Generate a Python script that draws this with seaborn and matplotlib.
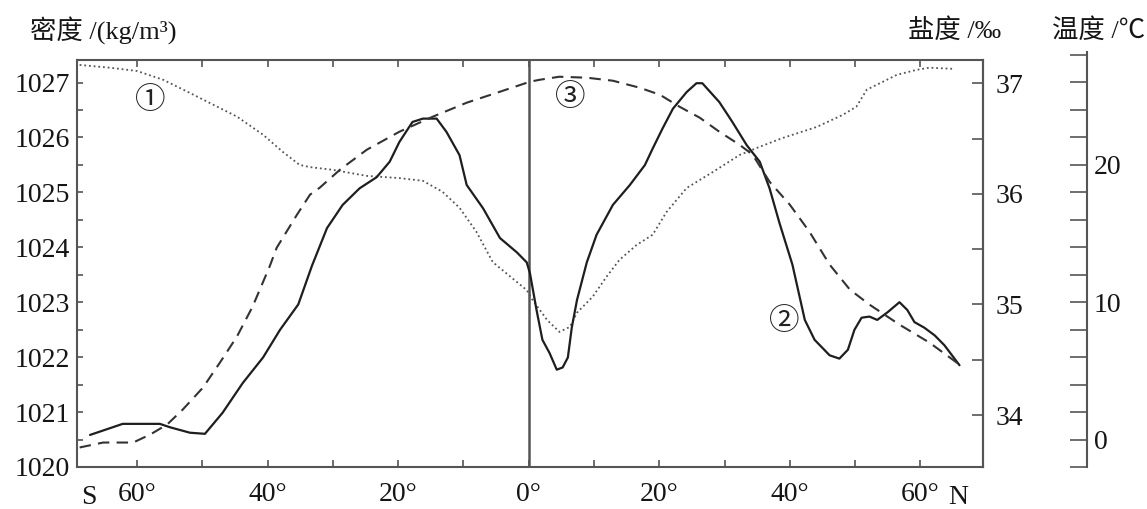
import numpy as np
import pandas as pd
import matplotlib
matplotlib.use("Agg")
import matplotlib.pyplot as plt
from matplotlib.ticker import MultipleLocator, FixedLocator
import seaborn as sns

# ---------------- data (latitude: S negative, N positive) ----------------
dens_lat = [-68.8, -64.2, -60.0, -56.0, -51.9, -48.9, -44.7, -40.7, -37.7, -35.1, -33.5,
            -30.0, -24.8, -19.8, -16.2, -13.2, -10.6, -8.0, -5.5, -0.3, 0.6, 2.8, 4.7,
            6.3, 7.4, 9.8, 11.9, 13.9, 16.5, 19.0, 21.1, 24.2, 28.2, 32.3, 35.4, 38.9,
            44.1, 48.1, 50.2, 51.8, 54.2, 56.4, 59.4, 61.4, 64.9]
density = [1027.32, 1027.27, 1027.21, 1027.05, 1026.81, 1026.63, 1026.38, 1026.05, 1025.74,
           1025.50, 1025.46, 1025.41, 1025.30, 1025.26, 1025.21, 1025.01, 1024.72, 1024.28,
           1023.73, 1023.22, 1023.04, 1022.68, 1022.46, 1022.55, 1022.81, 1023.10, 1023.46,
           1023.77, 1024.04, 1024.23, 1024.64, 1025.08, 1025.37, 1025.68, 1025.83, 1025.99,
           1026.19, 1026.41, 1026.56, 1026.87, 1027.01, 1027.14, 1027.23, 1027.27, 1027.25]

sal_lat = [-67.2, -62.2, -56.5, -55.0, -51.9, -49.6, -46.9, -43.8, -40.7, -38.1, -35.3,
           -33.2, -30.9, -28.5, -25.9, -23.3, -21.3, -19.8, -17.8, -16.2, -14.1, -12.6,
           -10.6, -9.5, -7.0, -4.4, -1.8, -0.3, 0.2, 1.2, 2.1, 3.2, 4.3, 5.2, 6.0, 6.6,
           7.4, 8.9, 10.4, 12.9, 15.5, 17.8, 19.0, 20.5, 22.1, 24.2, 25.7, 26.6, 29.2,
           31.2, 33.4, 35.4, 36.9, 38.4, 40.4, 42.3, 43.8, 46.1, 47.6, 48.9, 49.9, 51.0,
           52.2, 53.4, 55.0, 56.8, 58.0, 59.1, 60.6, 62.2, 63.7, 66.0]
salinity = [33.82, 33.92, 33.92, 33.89, 33.84, 33.83, 34.02, 34.29, 34.52, 34.77, 35.00,
            35.35, 35.69, 35.90, 36.05, 36.15, 36.29, 36.47, 36.65, 36.68, 36.68, 36.56,
            36.35, 36.08, 35.87, 35.60, 35.47, 35.38, 35.28, 34.95, 34.68, 34.56, 34.41,
            34.43, 34.52, 34.79, 35.04, 35.38, 35.63, 35.90, 36.08, 36.26, 36.41, 36.59,
            36.77, 36.92, 37.00, 37.00, 36.83, 36.65, 36.44, 36.29, 36.05, 35.74, 35.36,
            34.86, 34.68, 34.54, 34.51, 34.59, 34.77, 34.88, 34.89, 34.86, 34.93, 35.02,
            34.95, 34.84, 34.79, 34.72, 34.63, 34.45]

temp_lat = [-68.8, -65.2, -60.6, -58.0, -55.4, -53.0, -49.9, -47.3, -44.7, -42.3, -39.7,
            -38.6, -35.5, -33.5, -32.0, -28.9, -24.8, -19.8, -14.7, -9.5, -4.4, 0.2, 1.7,
            4.7, 8.9, 12.9, 17.0, 20.1, 23.1, 26.2, 29.2, 32.3, 34.3, 36.9, 40.0, 43.0,
            46.1, 49.2, 52.2, 56.8, 61.4, 66.0]
temperature = [-0.58, -0.22, -0.22, 0.36, 1.09, 2.18, 3.78, 5.60, 7.49, 9.67, 12.58, 13.96,
               16.36, 17.82, 18.33, 19.64, 21.09, 22.40, 23.49, 24.51, 25.31, 26.04, 26.18,
               26.40, 26.33, 26.11, 25.60, 25.09, 24.22, 23.42, 22.40, 21.45, 20.73, 18.76,
               17.09, 15.13, 12.73, 10.91, 9.82, 8.36, 7.05, 5.45]

x_ticks = [-60, -40, -20, 0, 20, 40, 60]
x_labels = ["60°", "40°", "20°", "0°", "20°", "40°", "60°"]
dens_ticks = [1020, 1021, 1022, 1023, 1024, 1025, 1026, 1027]
sal_ticks = [34, 35, 36, 37]
temp_ticks = [0, 10, 20]

# ---------------- style ----------------
sns.set_style("ticks")
plt.rcParams["font.family"] = ["Liberation Serif", "Noto Sans CJK SC", "DejaVu Sans"]
SP = "#555555"
LC = "#1e1e1e"
FS = 20
TXT = "#151515"

W_PX, H_PX = 1147, 509
fig = plt.figure(figsize=(W_PX / 100, H_PX / 100), dpi=100)
L = 77 / W_PX
R = 983 / W_PX
B = 1 - 467 / H_PX
T = 1 - 60 / H_PX
ax = fig.add_axes([L, B, R - L, T - B])
ax2 = ax.twinx()
T3 = 1 - 52 / H_PX
ax3 = fig.add_axes([L, B, R - L, T3 - B])
ax3.patch.set_alpha(0)

XL = (-69.2, 69.6)

df_d = pd.DataFrame({"lat": dens_lat, "v": density})
df_s = pd.DataFrame({"lat": sal_lat, "v": salinity})
df_t = pd.DataFrame({"lat": temp_lat, "v": temperature})

sns.lineplot(data=df_d, x="lat", y="v", ax=ax, color="#555555", lw=1.3,
             linestyle=(0, (1, 1.6)), sort=False, estimator=None)
sns.lineplot(data=df_s, x="lat", y="v", ax=ax2, color=LC, lw=1.6,
             sort=False, estimator=None)
sns.lineplot(data=df_t, x="lat", y="v", ax=ax3, color="#333333", lw=1.5,
             linestyle=(0, (5.5, 3.5)), sort=False, estimator=None)

ax.axvline(0, color=SP, lw=1.8, zorder=1)

# density axis
ax.set_xlim(*XL)
ax.set_ylim(1020, 1027.41)
ax.set_yticks(dens_ticks)
ax.yaxis.set_minor_locator(FixedLocator([v + 0.5 for v in dens_ticks[:-1]]))
ax.set_xticks(x_ticks)
ax.set_xticklabels(x_labels)
ax.xaxis.set_minor_locator(MultipleLocator(10))
ax.tick_params(axis="both", which="both", direction="in", colors=SP, labelcolor=TXT,
               labelsize=FS, width=1.2)
ax.tick_params(axis="x", which="both", top=True, length=5, pad=11)
ax.tick_params(axis="y", which="both", length=4, pad=5)
ax.set_xlabel("")
ax.set_ylabel("")
for s in ax.spines.values():
    s.set_color(SP)
    s.set_linewidth(1.5)

# salinity axis
ax2.set_ylim(33.53, 37.21)
ax2.set_yticks(sal_ticks)
ax2.yaxis.set_minor_locator(FixedLocator([34.5, 35.5, 36.5]))
ax2.tick_params(axis="y", which="both", direction="in", length=8, width=1.2, colors=SP,
                labelcolor=TXT, labelsize=FS, pad=9)
ax2.set_ylabel("")
for s in ax2.spines.values():
    s.set_visible(False)
ax2.spines["right"].set_visible(True)
ax2.spines["right"].set_color(SP)
ax2.spines["right"].set_linewidth(1.5)

# temperature axis
ax3.set_xlim(*XL)
ax3.set_ylim(-2, 28.2)
ax3.xaxis.set_visible(False)
for k in ["left", "top", "bottom"]:
    ax3.spines[k].set_visible(False)
ax3.spines["right"].set_position(("axes", (1087 - 77) / (983 - 77)))
ax3.spines["right"].set_color(SP)
ax3.spines["right"].set_linewidth(1.5)
ax3.yaxis.set_ticks_position("right")
ax3.yaxis.set_label_position("right")
ax3.set_yticks(temp_ticks)
ax3.yaxis.set_minor_locator(FixedLocator([v for v in range(-2, 29, 2) if v % 10 != 0]))
ax3.tick_params(axis="y", which="both", direction="in", length=12, width=1.2, colors=SP,
                labelcolor=TXT, labelsize=FS, pad=5)
ax3.set_ylabel("")

# S / N markers
xt = ax.get_xaxis_transform()
ax.text(-67.4, -0.075, "S", transform=xt, ha="center", va="center", fontsize=FS, color=TXT)
ax.text(65.8, -0.075, "N", transform=xt, ha="center", va="center", fontsize=FS, color=TXT)

# circled curve numbers
CF = ["Noto Sans CJK SC", "DejaVu Sans"]
ax.text(-58.0, 1026.68, "①", ha="center", va="center", fontsize=22, family=CF, color="#222222")
ax.text(39.2, 1022.64, "②", ha="center", va="center", fontsize=22, family=CF, color="#222222")
ax.text(6.3, 1026.72, "③", ha="center", va="center", fontsize=22, family=CF, color="#222222")

# axis titles
yt = 1 - 31 / H_PX
fig.text(30 / W_PX, yt, "密度 /(kg/m³)", ha="left", va="center", fontsize=19, color=TXT)
fig.text(908 / W_PX, yt, "盐度 /‰", ha="left", va="center", fontsize=19, color=TXT)
fig.text(1145 / W_PX, yt, "温度 /℃", ha="right", va="center", fontsize=19, color=TXT)

fig.savefig("out.png", dpi=100)
